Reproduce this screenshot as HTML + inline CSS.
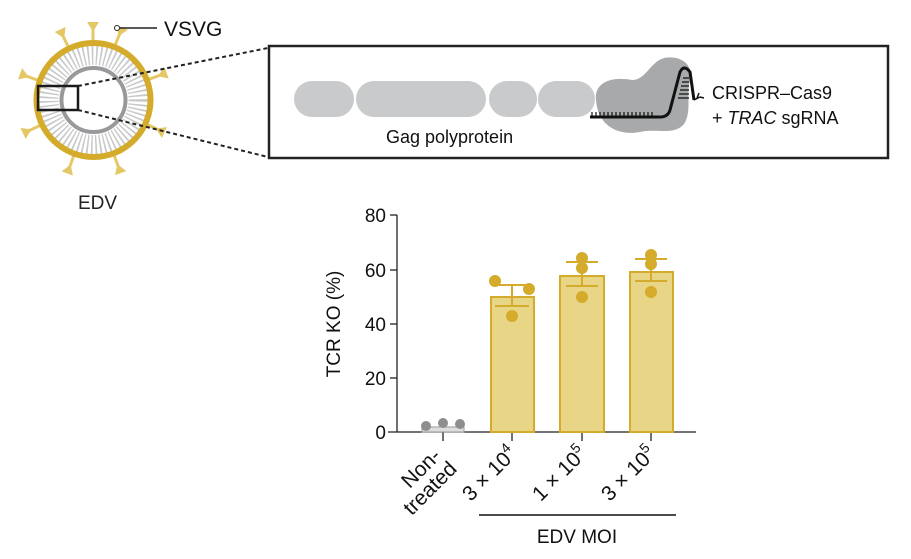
<!DOCTYPE html>
<html><head><meta charset="utf-8"><style>
body{margin:0;background:#fff;}
svg{display:block;font-family:"Liberation Sans",Arial,sans-serif;}
</style></head><body>
<svg width="911" height="559" viewBox="0 0 911 559" xmlns="http://www.w3.org/2000/svg">
<g id="virus">
  <g stroke="#e5c866" stroke-width="3" fill="#e5c866">
    <g id="sp">
      <line x1="93" y1="42" x2="93" y2="28"/>
      <path d="M87 22 L99 22 L94 30 L92 30 Z" stroke="none"/>
    </g>
    <use href="#sp" transform="rotate(22 93.5 100)"/>
    <use href="#sp" transform="rotate(70 93.5 100)"/>
    <use href="#sp" transform="rotate(115 93.5 100)"/>
    <use href="#sp" transform="rotate(160 93.5 100)"/>
    <use href="#sp" transform="rotate(200 93.5 100)"/>
    <use href="#sp" transform="rotate(245 93.5 100)"/>
    <use href="#sp" transform="rotate(290 93.5 100)"/>
    <use href="#sp" transform="rotate(-25 93.5 100)"/>
  </g>
  <circle cx="93.5" cy="100" r="45" fill="none" stroke="#c8c9cb" stroke-width="20" stroke-dasharray="1.6 2.6"/>
  <circle cx="93.5" cy="100" r="57" fill="none" stroke="#d4ab2b" stroke-width="6"/>
  <circle cx="93.5" cy="100" r="32" fill="none" stroke="#98999b" stroke-width="4"/>
  <rect x="38" y="86" width="40" height="24" fill="none" stroke="#1a1a1a" stroke-width="2.5"/>
</g>
<circle cx="117" cy="28" r="2.5" fill="#fff" stroke="#222" stroke-width="1"/>
<line x1="120" y1="28" x2="157" y2="28" stroke="#222" stroke-width="1.5"/>
<text x="164" y="36" font-size="21" fill="#111">VSVG</text>
<text x="78" y="209" font-size="19" fill="#222">EDV</text>
<line x1="78" y1="86" x2="268" y2="48" stroke="#222" stroke-width="2" stroke-dasharray="4 3"/>
<line x1="78" y1="110" x2="268" y2="157" stroke="#222" stroke-width="2" stroke-dasharray="4 3"/>
<rect x="269" y="46" width="619" height="112" fill="#fff" stroke="#222" stroke-width="2.5"/>
<g fill="#c8cacb">
  <rect x="294" y="81" width="60" height="36" rx="18"/>
  <rect x="356" y="81" width="130" height="36" rx="18"/>
  <rect x="489" y="81" width="48" height="36" rx="18"/>
  <rect x="538" y="81" width="57" height="36" rx="18"/>
</g>
<path d="M596 100 C594 82 612 76 632 80 C646 80 650 62 664 58 C680 55 694 64 690 80 C686 95 692 112 684 124 C674 136 656 128 640 132 C618 136 598 126 596 100 Z" fill="#a7a9ab"/>
<path d="M590 117 L660 117 Q668 117 670 110 L680 72 Q684 64 690 72 L694 100" fill="none" stroke="#111" stroke-width="3"/>
<path d="M592 117 v-5 M596 117 v-5 M600 117 v-5 M604 117 v-5 M608 117 v-5 M612 117 v-5 M616 117 v-5 M620 117 v-5 M624 117 v-5 M628 117 v-5 M632 117 v-5 M636 117 v-5 M640 117 v-5 M644 117 v-5 M648 117 v-5 M652 117 v-5" stroke="#111" stroke-width="1.2"/>
<path d="M683 78h6 M682 82h7 M681 86h8 M680 90h9 M679 94h10 M678 98h11" stroke="#111" stroke-width="1.2"/>
<path d="M694 100 l6 -3 M697 98 l2 -5 M700 97 l4 1" stroke="#111" stroke-width="1.5" fill="none"/>
<text x="386" y="143" font-size="18" fill="#111">Gag polyprotein</text>
<text x="712" y="99" font-size="18" fill="#111">CRISPR–Cas9</text>
<text x="712" y="124" font-size="18" fill="#111">+ <tspan font-style="italic">TRAC</tspan> sgRNA</text>
<g font-size="19" fill="#111" text-anchor="end">
  <text x="386" y="222">80</text>
  <text x="386" y="277">60</text>
  <text x="386" y="331">40</text>
  <text x="386" y="385">20</text>
  <text x="386" y="439">0</text>
</g>
<g stroke="#222" stroke-width="1.3">
  <line x1="397" y1="215" x2="397" y2="432"/>
  <line x1="390" y1="215" x2="397" y2="215"/>
  <line x1="390" y1="270" x2="397" y2="270"/>
  <line x1="390" y1="324" x2="397" y2="324"/>
  <line x1="390" y1="378" x2="397" y2="378"/>
  <line x1="388" y1="432" x2="696" y2="432"/>
  <line x1="443" y1="432" x2="443" y2="441"/>
  <line x1="512" y1="432" x2="512" y2="441"/>
  <line x1="582" y1="432" x2="582" y2="441"/>
  <line x1="651" y1="432" x2="651" y2="441"/>
</g>
<text transform="translate(340 324) rotate(-90)" text-anchor="middle" font-size="19" fill="#111">TCR KO (%)</text>
<rect x="422" y="427" width="42" height="5" fill="#ddd" stroke="#999" stroke-width="1"/>
<g fill="#8e8e8e"><circle cx="426" cy="426" r="5"/><circle cx="443" cy="423" r="5"/><circle cx="460" cy="424" r="5"/></g>
<g fill="#e8d586" stroke="#d4ab2b" stroke-width="2">
  <rect x="491" y="297" width="43" height="135"/>
  <rect x="560" y="276" width="44" height="156"/>
  <rect x="630" y="272" width="43" height="160"/>
</g>
<g stroke="#d4ab2b" stroke-width="2">
  <line x1="512" y1="285" x2="512" y2="306"/><line x1="495" y1="285" x2="529" y2="285"/><line x1="495" y1="306" x2="529" y2="306"/>
  <line x1="582" y1="262" x2="582" y2="286"/><line x1="566" y1="262" x2="598" y2="262"/><line x1="566" y1="286" x2="598" y2="286"/>
  <line x1="651" y1="259" x2="651" y2="281"/><line x1="635" y1="259" x2="667" y2="259"/><line x1="635" y1="281" x2="667" y2="281"/>
</g>
<g fill="#d4ab2b">
  <circle cx="495" cy="281" r="6"/><circle cx="529" cy="289" r="6"/><circle cx="512" cy="316" r="6"/>
  <circle cx="582" cy="258" r="6"/><circle cx="582" cy="268" r="6"/><circle cx="582" cy="297" r="6"/>
  <circle cx="651" cy="255" r="6"/><circle cx="651" cy="264" r="6"/><circle cx="651" cy="292" r="6"/>
</g>
<g font-size="21" fill="#111" text-anchor="end">
  <text transform="translate(442 457) rotate(-45)">Non-</text>
  <text transform="translate(458 470) rotate(-45)">treated</text>
  <text transform="translate(518 455) rotate(-45)">3 × 10<tspan font-size="14" dy="-9">4</tspan></text>
  <text transform="translate(588 455) rotate(-45)">1 × 10<tspan font-size="14" dy="-9">5</tspan></text>
  <text transform="translate(657 455) rotate(-45)">3 × 10<tspan font-size="14" dy="-9">5</tspan></text>
</g>
<line x1="479" y1="515" x2="676" y2="515" stroke="#111" stroke-width="1.5"/>
<text x="577" y="543" text-anchor="middle" font-size="19" fill="#111">EDV MOI</text>
</svg>
</body></html>
